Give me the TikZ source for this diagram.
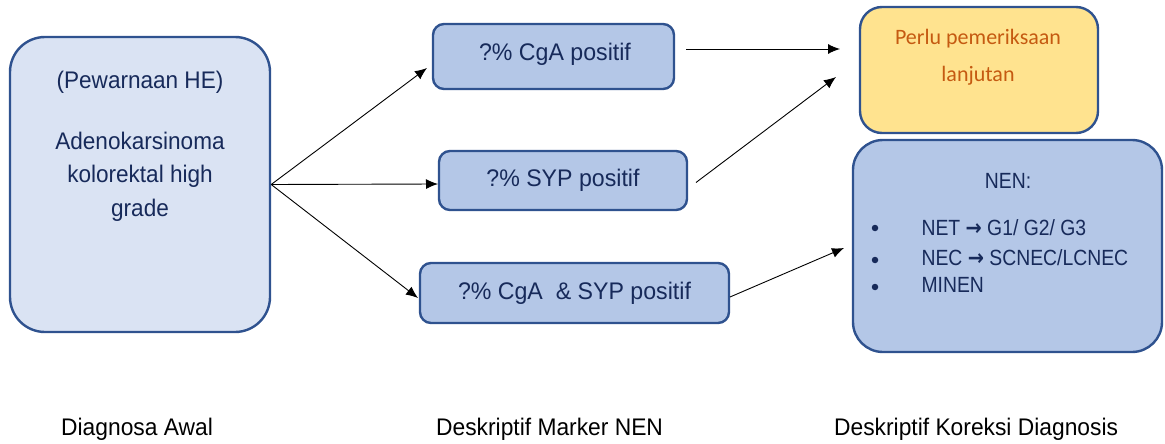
\documentclass[tikz,border=0pt]{standalone}
\usepackage{fontspec}
\setmainfont{Liberation Sans}
\newfontfamily\carl{Carlito}
\newfontfamily\dvs{DejaVu Sans}
\usetikzlibrary{arrows.meta}
\definecolor{bord}{HTML}{2F528F}
\definecolor{lightfill}{HTML}{DAE3F3}
\definecolor{midfill}{HTML}{B4C7E7}
\definecolor{goldfill}{HTML}{FFE38F}
\definecolor{navy}{HTML}{172A5A}
\definecolor{orangetxt}{HTML}{C55A11}
\newcommand\cndA[1]{\scalebox{0.94}[1]{#1}}
\newcommand\cndB[1]{\scalebox{0.965}[1]{#1}}
\newcommand\cndC[1]{\scalebox{0.95}[1]{#1}}
\newcommand\cndD[1]{\scalebox{0.88}[1]{#1}}
\newcommand\rarr{{\dvs\bfseries\fontsize{22}{24}\selectfont →}}
\begin{document}
\begin{tikzpicture}[x=1pt,y=-1pt,
  box/.style={draw=bord,line width=2.4pt,rectangle,inner sep=0pt},
  boxtxt/.style={text=navy,font=\fontsize{24}{28}\selectfont},
  lefttxt/.style={text=navy,font=\fontsize{24}{30}\selectfont},
  listtxt/.style={text=navy,font=\fontsize{22}{26}\selectfont,anchor=west},
  bul/.style={circle,fill=navy,inner sep=0pt,minimum size=6.5pt},
  foot/.style={text=black,font=\fontsize{24}{28}\selectfont,anchor=base west,inner sep=0pt},
  conn/.style={line width=0.9pt,-{Latex[length=12pt,width=10pt]}}]
\useasboundingbox (0,0) rectangle (1165,444);
% boxes
\node[box,fill=lightfill,rounded corners=35pt,minimum width=260pt,minimum height=295pt] (he) at (140,184.5) {};
\node[lefttxt] (het1) at (140,82) {\cndA{(Pewarnaan HE)}};
\node[lefttxt] (het2) at (140,141) {\cndA{Adenokarsinoma}};
\node[lefttxt] (het3) at (140,176) {\cndA{kolorektal high}};
\node[lefttxt] (het4) at (140,210) {\cndA{grade}};
\node[box,fill=midfill,rounded corners=11pt,minimum width=241pt,minimum height=65pt,boxtxt] (cga) at (553.5,56.5) {};
\node[boxtxt] (cgat) at (555,54) {\cndB{?\% CgA positif}};
\node[box,fill=midfill,rounded corners=11pt,minimum width=248pt,minimum height=59pt,boxtxt] (syp) at (563,180.5) {\cndB{?\% SYP positif}};
\node[box,fill=midfill,rounded corners=11pt,minimum width=309pt,minimum height=60pt,boxtxt] (both) at (574.5,293) {\cndB{?\% CgA\ \ \& SYP positif}};
\node[box,fill=goldfill,rounded corners=22pt,minimum width=238pt,minimum height=126pt] (perlu) at (979,70) {};
\node[text=orangetxt,align=center,font=\carl\fontsize{22}{37}\selectfont] (perlut) at (978,57.5) {Perlu pemeriksaan\\lanjutan};
\node[box,fill=midfill,rounded corners=30pt,minimum width=309pt,minimum height=212pt] (nen) at (1007.5,246) {};
\node[text=navy,font=\fontsize{22}{26}\selectfont] (nent) at (1008,181) {\cndD{NEN:}};
\node[bul] (b1) at (875,228) {};
\node[bul] (b2) at (875,260) {};
\node[bul] (b3) at (875,287) {};
\node[listtxt] (l1) at (918,228) {\cndD{NET \rarr{} G1/ G2/ G3}};
\node[listtxt] (l2) at (918,258) {\cndD{NEC \rarr{} SCNEC/LCNEC}};
\node[listtxt] (l3) at (918,285) {\cndD{MINEN}};
% footer labels
\node[foot] (f1) at (61,435) {\cndC{Diagnosa Awal}};
\node[foot] (f2) at (436,435) {\cndC{Deskriptif Marker NEN}};
\node[foot] (f3) at (834,435) {\cndC{Deskriptif Koreksi Diagnosis}};
% connector end points
\coordinate (s1) at (686,49);
\coordinate (e1) at (840,49);
\coordinate (s2) at (696,182.5);
\coordinate (e2) at (836,77);
\coordinate (s3) at (730,297);
\coordinate (e3) at (844,248);
\coordinate (t1) at (427,68);
\coordinate (t2) at (438,184);
\coordinate (t3) at (418,298);
% connectors
\draw[conn] (he.east) -- (t1);
\draw[conn] (he.east) -- (t2);
\draw[conn] (he.east) -- (t3);
\draw[conn] (s1) -- (e1);
\draw[conn] (s2) -- (e2);
\draw[conn] (s3) -- (e3);
\end{tikzpicture}
\end{document}
